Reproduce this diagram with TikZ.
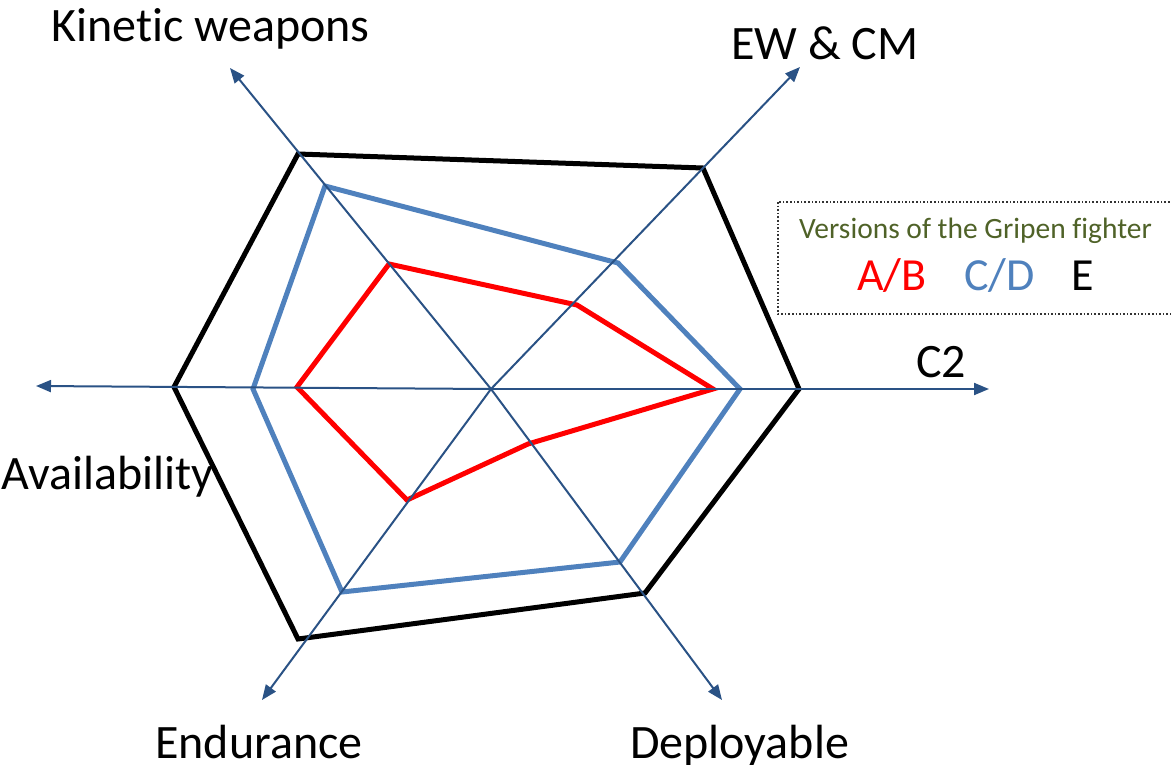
\documentclass[tikz,border=0pt]{standalone}
\usepackage{fontspec}
\setmainfont{Carlito}[Ligatures={NoCommon}]
\usetikzlibrary{arrows.meta}
\definecolor{axisblue}{HTML}{2A5285}
\definecolor{cdblue}{HTML}{4F81BD}
\definecolor{legendgreen}{HTML}{4F6228}
\tikzset{
  axisline/.style={draw=axisblue, line width=2pt, -{Triangle[length=15pt,width=12pt]}},
  polyline/.style={line width=5pt, line join=miter},
  biglabel/.style={font=\fontsize{48}{56}\selectfont, inner sep=0pt, anchor=base west},
  legkey/.style={font=\fontsize{46}{54}\selectfont, inner sep=0pt, anchor=base west},
  leglabel/.style={font=\fontsize{29.5}{34}\selectfont, inner sep=0pt, anchor=base west},
}
\begin{document}
\begin{tikzpicture}[x=1pt,y=-1pt]
\useasboundingbox (0,0) rectangle (1171,765);
% center and axis ends
\coordinate (O) at (491,389);
\coordinate (kw) at (230,68);
\coordinate (ew) at (800,67);
\coordinate (c2) at (989,389);
\coordinate (de) at (722,700);
\coordinate (en) at (262,700);
\coordinate (av) at (36,386);
% polygons
\draw[polyline, black] (298,154) -- (703,168) -- (799,389) -- (645,593) -- (298,639) -- (174,387) -- cycle;
\draw[polyline, cdblue] (325,186) -- (618,263) -- (740,389) -- (620,562) -- (342,592) -- (253,389) -- cycle;
\draw[polyline, red] (389,264) -- (577,305) -- (713,389) -- (528,444) -- (407,500) -- (297,387) -- cycle;
% axes
\foreach \e in {kw,ew,c2,de,en,av} \draw[axisline] (O) -- (\e);
% labels
\node[biglabel] (lkw) at (51,42) {Kinetic weapons};
\node[biglabel] (lew) at (731,60) {EW \& CM};
\node[biglabel] (lc2) at (916,377) {C2};
\node[biglabel] (lav) at (1,489) {Availability};
\node[biglabel] (len) at (155,758) {Endurance};
\node[biglabel] (lde) at (630,758) {Deployable};
% legend
\draw[dotted, line width=1.6pt, draw=black!80] (778,202) rectangle (1175,314);
\node[leglabel, text=legendgreen] (lt) at (799,238) {Versions of the Gripen fighter};
\node[legkey, text=red] (lab) at (857,290) {A/B};
\node[legkey, text=cdblue] (lcd) at (964,290) {C/D};
\node[legkey, text=black] (le) at (1071,290) {E};
\end{tikzpicture}
\end{document}
